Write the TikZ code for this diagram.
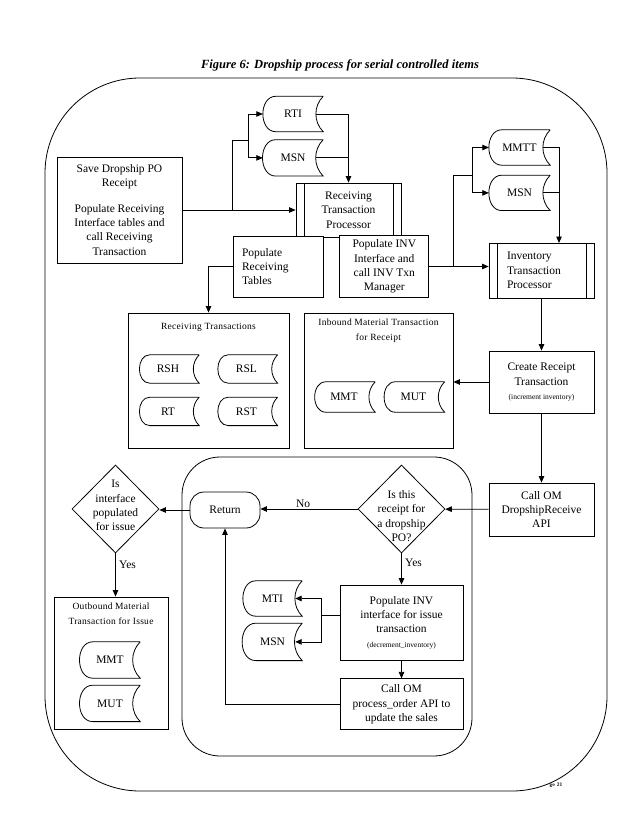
\documentclass[tikz,border=0pt]{standalone}
\usepackage{fontspec}
\setmainfont{Liberation Serif}
\newfontfamily\hdrfont[LetterSpace=3]{Liberation Serif}
\usepackage{tikz}
\usetikzlibrary{arrows.meta, shapes.geometric}
\usetikzlibrary{positioning}
\tikzstyle{boxline} = [line width=0.8pt]
\tikzstyle{flowline} = [boxline]
\tikzstyle{flowarrow} = [boxline, -{Triangle[length=6.5pt,width=5.5pt]}]
\tikzstyle{txt} = [font=\fontsize{11.5pt}{14.3pt}\selectfont, align=center]
\tikzstyle{hdr} = [font=\hdrfont\fontsize{9.5pt}{15pt}\selectfont, align=center, inner sep=0pt]
\tikzstyle{stepbox} = [draw, boxline, txt, fill=white, inner sep=1pt]
\tikzstyle{procbox} = [
    draw, boxline, txt, inner sep=1pt,
    append after command={\pgfextra{\let\procnode\tikzlastnode
        \draw[boxline] ([xshift=8.5pt]\procnode.north west) -- ([xshift=8.5pt]\procnode.south west)
            ([xshift=-8.5pt]\procnode.north east) -- ([xshift=-8.5pt]\procnode.south east);}}
]
\tikzstyle{store} = [
    txt, inner sep=0pt,
    minimum width=60pt,
    minimum height=35pt,
    append after command={\pgfextra{\let\storenode\tikzlastnode
        \draw[boxline] (\storenode.north east) -- ([xshift=13pt]\storenode.north west)
            to[out=180, in=180, looseness=1.25] ([xshift=13pt]\storenode.south west)
            -- (\storenode.south east)
            to[out=135, in=-135] (\storenode.north east);}}
]
\tikzstyle{decision} = [draw, boxline, diamond, minimum width=87pt, minimum height=88pt, inner sep=0pt]
\tikzstyle{groupbox} = [draw, boxline, inner sep=0pt]
\tikzstyle{endbox} = [draw, boxline, txt, rounded corners=14pt, minimum width=70pt, minimum height=36pt]
\begin{document}
\begin{tikzpicture}[x=1pt, y=-1pt]
\useasboundingbox (0,0) rectangle (638,826);

\node [font=\fontsize{12.5pt}{15pt}\selectfont\bfseries\itshape] (title) at (340,65) {Figure 6: Dropship process for serial controlled items};

\draw[boxline, rounded corners=95pt] (45,78) rectangle (607,791);
\draw[boxline, rounded corners=38pt] (182,457) rectangle (472,756);

\node [stepbox,
    minimum width=125pt,
    minimum height=106pt
]  (save) at (119.5,210) {Save Dropship PO\\Receipt\\[11pt]Populate Receiving\\Interface tables and\\call Receiving\\Transaction};

\node [store] (rti) at (293,114) {RTI};
\node [store, minimum height=36pt, below=8pt of rti] (msnrcv) {MSN};

\node [procbox,
    minimum width=105pt,
    minimum height=54pt
]  (rtp) at (348.5,210) {Receiving\\Transaction\\Processor};

\node [stepbox,
    minimum width=90pt,
    minimum height=61pt,
    text width=72pt, align=left
]  (poprcv) at (278,266.5) {Populate\\Receiving\\Tables};

\node [stepbox,
    minimum width=89pt,
    minimum height=62pt,
    right=16pt of poprcv
]  (popinv) {Populate INV\\Interface and\\call INV Txn\\Manager};

\node [store, minimum width=61pt] (mmtt) at (519.5,147.5) {MMTT};
\node [store, minimum width=61pt, below=10pt of mmtt] (msninv) {MSN};

\node [procbox,
    minimum width=105pt,
    minimum height=55pt,
    text width=69pt, align=left
]  (invproc) at (541.5,270.5) {Inventory\\Transaction\\Processor};

\node [stepbox,
    minimum width=105pt,
    minimum height=62pt
]  (crtrcpt) at (541.5,382) {Create Receipt\\Transaction\\{\fontsize{7.5pt}{9pt}\selectfont(increment inventory)}};

\node [stepbox,
    minimum width=105pt,
    minimum height=53pt
]  (callomdr) at (541.5,509.5) {Call OM\\DropshipReceive\\API};

\node [groupbox, minimum width=161pt, minimum height=135pt] (rcvtxn) at (208.5,380.5) {};
\node [hdr, below=10pt of rcvtxn.north] (rcvhdr) {Receiving Transactions};
\node [store, minimum width=62pt, minimum height=28pt] (rsh) at (168,369) {RSH};
\node [store, minimum width=62pt, minimum height=28pt, right=16pt of rsh] (rsl) {RSL};
\node [store, minimum width=62pt, minimum height=28pt, below=14pt of rsh] (rt) {RT};
\node [store, minimum width=62pt, minimum height=28pt, below=14pt of rsl] (rst) {RST};

\node [groupbox, minimum width=149pt, minimum height=135pt] (inbmat) at (378.5,380.5) {};
\node [hdr, below=6pt of inbmat.north] (inbhdr) {Inbound Material Transaction\\for Receipt};
\node [store, minimum width=62pt, minimum height=30pt] (mmtrcv) at (344,397) {MMT};
\node [store, minimum width=62pt, minimum height=30pt, right=7pt of mmtrcv] (mutrcv) {MUT};

\node [decision,
    label={[txt, yshift=-7pt]center:{Is this\\receipt for\\a dropship\\PO?}}
]  (dshipq) at (401.5,509) {};

\node [endbox] (ret) at (225,510) {Return};

\node [decision,
    label={[txt, yshift=3.5pt]center:{Is\\interface\\populated\\for issue}}
]  (isiss) at (115.5,509) {};

\node [groupbox, minimum width=114pt, minimum height=132pt] (outmat) at (111,663) {};
\node [hdr, below=6pt of outmat.north] (outhdr) {Outbound Material\\Transaction for Issue};
\node [store, minimum height=36pt] (mmtiss) at (110,660) {MMT};
\node [store, minimum height=36pt, below=7pt of mmtiss] (mutiss) {MUT};

\node [stepbox,
    minimum width=123pt,
    minimum height=75pt
]  (popiss) at (401.5,622.5) {Populate INV\\interface for issue\\transaction\\{\fontsize{7.5pt}{9pt}\selectfont(decrement\_inventory)}};

\node [stepbox,
    minimum width=123pt,
    minimum height=51pt,
    below=18pt of popiss
]  (callomp) {Call OM\\process\_order API to\\update the sales};

\node [store, minimum width=59pt] (mti) at (272.5,598.5) {MTI};
\node [store, minimum width=59pt, minimum height=37pt, below=7pt of mti] (msniss) {MSN};

\node [font=\fontsize{5pt}{6pt}\sffamily\bfseries] (pagenum) at (556,785) {ge 21};

\coordinate (savebr) at (232,140);
\coordinate (rtibr) at (248,140);
\coordinate (invbr) at (453,175);
\coordinate (mmtbr) at (472,175);
\coordinate (invin) at (559,243);
\coordinate (issbr) at (321,615);

\draw[flowarrow] (save) -- (rtp);
\draw[flowline] (save.east -| savebr) -- (savebr) -- (rtibr);
\draw[flowarrow] (rtibr) |- (rti.west);
\draw[flowarrow] (rtibr) |- (msnrcv.west);
\draw[flowarrow] ([xshift=-7pt]rti.east) -| (rtp.north);
\draw[flowline] ([xshift=-7pt]msnrcv.east) -- (msnrcv.east -| rtp.north);

\draw[flowarrow] (poprcv.west) -| (rcvtxn.north);

\draw[flowarrow] (popinv.east) -- (popinv.east -| invproc.west);
\draw[flowline] (popinv.east -| invbr) |- (mmtbr);
\draw[flowarrow] (mmtbr) |- (mmtt.west);
\draw[flowarrow] (mmtbr) |- (msninv.west);
\draw[flowarrow] ([xshift=-7pt]mmtt.east) -| (invin);
\draw[flowline] ([xshift=-7pt]msninv.east) -- (msninv.east -| invin);

\draw[flowarrow] (invproc) -- (crtrcpt);
\draw[flowarrow] (crtrcpt.west) -- (crtrcpt.west -| inbmat.east);
\draw[flowarrow] (crtrcpt) -- (callomdr);
\draw[flowarrow] (callomdr) -- (dshipq);

\draw[flowarrow] (dshipq.west) -- node[txt, pos=0.56, above=-2pt] {No} (dshipq.west -| ret.east);
\draw[flowarrow] (ret.west) -- (ret.west -| isiss.east);
\draw[flowarrow] (isiss.south) -- node[txt, pos=0.27, right] {Yes} (isiss.south |- outmat.north);

\draw[flowarrow] (dshipq.south) -- node[txt, pos=0.31, right] {Yes} (dshipq.south |- popiss.north);
\draw[flowline] (popiss.west |- issbr) -- (issbr);
\draw[flowarrow] (issbr) |- ([xshift=-7pt]mti.east);
\draw[flowarrow] (issbr) |- ([xshift=-7pt]msniss.east);
\draw[flowarrow] (popiss) -- (callomp);
\draw[flowarrow] (callomp.west) -| (ret.south);

\end{tikzpicture}
\end{document}
